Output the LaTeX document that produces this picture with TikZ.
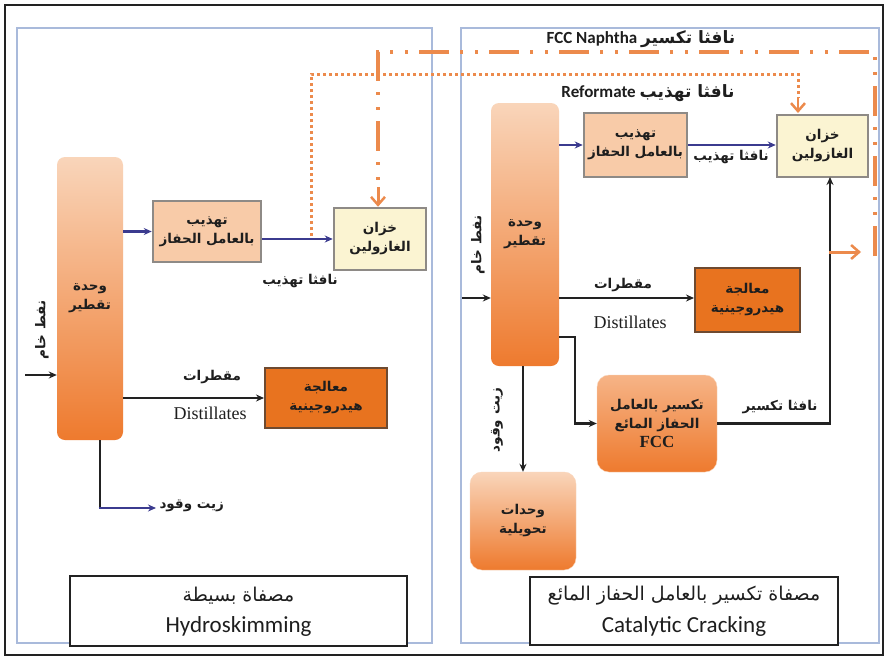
\documentclass[tikz,border=0pt]{standalone}
\usepackage{fontspec}
\setmainfont{Liberation Serif}
\newfontfamily\arabicfont[Script=Arabic]{DejaVu Sans}
\newfontfamily\calib{Carlito}
\TeXXeTstate=1
\usetikzlibrary{arrows.meta}
\newcommand{\artxt}[1]{\beginR #1\endR}
\definecolor{panelc}{HTML}{A9BADB}
\definecolor{flowblue}{HTML}{3B3B8F}
\definecolor{orgline}{HTML}{EC8A4C}
\definecolor{hydro}{HTML}{E8731F}
\definecolor{hydroedge}{HTML}{6E4A30}
\definecolor{refill}{HTML}{F8CBA8}
\definecolor{tankfill}{HTML}{FBF4D2}
\definecolor{boxgray}{HTML}{8E8A86}
\definecolor{coltop}{HTML}{F9D5BA}
\definecolor{colbot}{HTML}{EE7A2E}
\definecolor{fcctop}{HTML}{F6B487}
\definecolor{linek}{HTML}{222222}
\definecolor{txtk}{HTML}{1E1E1E}
\tikzset{
  arfont/.style={font=\arabicfont\bfseries\fontsize{13.5}{19}\selectfont, text=txtk},
  arbig/.style={font=\arabicfont\fontsize{19}{22}\selectfont, text=txtk},
  column/.style={rounded corners=8pt, top color=coltop, bottom color=colbot, draw=none, inner sep=0pt, arfont, align=center},
  rounit/.style={rounded corners=12pt, top color=fcctop, bottom color=colbot, draw=coltop, inner sep=0pt, arfont, align=center},
  conv/.style={rounded corners=12pt, top color=coltop, bottom color=colbot, draw=coltop, inner sep=0pt, arfont, align=center},
  refbox/.style={fill=refill, draw=boxgray, line width=2.5pt, inner sep=0pt, arfont, align=center},
  tankbox/.style={fill=tankfill, draw=boxgray, line width=2.5pt, inner sep=0pt, arfont, align=center},
  hydbox/.style={fill=hydro, draw=hydroedge, line width=2pt, inner sep=0pt, arfont, align=center},
  capbox/.style={fill=white, draw=linek, line width=2pt, inner sep=0pt, align=center},
  panel/.style={draw=panelc, line width=2pt},
  bluearrow/.style={draw=flowblue, line width=2.8pt, -{Stealth[length=8pt,width=7pt]}},
  blackarrow/.style={draw=linek, line width=2.8pt, -{Stealth[length=8pt,width=7pt]}},
  blackline/.style={draw=linek, line width=2.8pt},
  dotline/.style={draw=orgline, line width=3pt, dash pattern=on 3pt off 3pt},
  dashdotline/.style={draw=orgline, line width=3.2pt, dash pattern=on 30pt off 11pt on 3pt off 12pt on 3pt off 11pt},
  orgtip/.style={-{Straight Barb[length=8pt,width=14pt,line width=2.5pt]}},
  latinlbl/.style={font=\calib\bfseries\fontsize{17}{20}\selectfont, text=txtk},
  distfont/.style={font=\fontsize{18}{20}\selectfont, text=txtk},
  capfont/.style={font=\calib\fontsize{23}{26}\selectfont, text=txtk}
}
\begin{document}
\begin{tikzpicture}[x=1pt,y=-1pt]
\useasboundingbox (0,0) rectangle (885,656);
\fill[white] (0,0) rectangle (885,656);
\draw[linek, line width=2pt] (5,5) rectangle (883,655);
\draw[panel] (17,28) rectangle (432,643);
\draw[panel] (461,28) rectangle (879,643);

% ---------- left panel ----------
\node[column, minimum width=66pt, minimum height=283pt] (colL) at (90,298.5) {\artxt{وحدة}\\\artxt{تقطير}};
\node[refbox, minimum width=108pt, minimum height=61pt] (refL) at (207,231.5) {\artxt{تهذيب}\\\artxt{بالعامل الحفاز}};
\node[tankbox, minimum width=92pt, minimum height=62pt] (tankL) at (380,239) {\artxt{خزان}\\\artxt{الغازولين}};
\node[hydbox, minimum width=122pt, minimum height=60pt] (hydL) at (326,398) {\artxt{معالجة}\\\artxt{هيدروجينية}};
\node[capbox, minimum width=337pt, minimum height=70pt] (capL) at (238.5,611) {};
\node[arbig] (capLa) at (238.5,596) {\artxt{مصفاة بسيطة}};
\node[capfont] (capLb) at (238.5,626) {Hydroskimming};

\node[arfont, rotate=90] (crudeLt) at (42,330) {\artxt{نفط خام}};
\coordinate (crudeL) at (25,375);
\draw[blackarrow] (crudeL) -- (crudeL -| colL.west);

\draw[bluearrow] (colL.east |- refL.west) -- (refL.west);
\draw[bluearrow] (refL.east |- tankL.west) -- (tankL.west);
\node[arfont] (refLlbl) at (300,281) {\artxt{نافثا تهذيب}};

\draw[blackarrow] (colL.east |- hydL.west) -- (hydL.west);
\node[arfont] (distLa) at (212,377) {\artxt{مقطرات}};
\node[distfont] (distLb) at (210,413) {Distillates};

\node[arfont, anchor=west] (fuelL) at (156,506) {\artxt{زيت وقود}};
\draw[blackline] (colL.south -| 100,0) -- (100,508);
\draw[bluearrow] (98.6,508) -- (fuelL.west |- 0,508);

% ---------- right panel ----------
\node[column, minimum width=68pt, minimum height=263pt] (colR) at (525,234.5) {\artxt{وحدة}\\\artxt{تقطير}};
\node[refbox, minimum width=103pt, minimum height=64pt] (refR) at (635.5,145) {\artxt{تهذيب}\\\artxt{بالعامل الحفاز}};
\node[tankbox, minimum width=91pt, minimum height=62pt] (tankR) at (822.5,146) {\artxt{خزان}\\\artxt{الغازولين}};
\node[hydbox, minimum width=105pt, minimum height=64pt] (hydR) at (747.5,300) {\artxt{معالجة}\\\artxt{هيدروجينية}};
\node[rounit, minimum width=120pt, minimum height=97pt] (fcc) at (657,423.5) {\artxt{تكسير بالعامل}\\\artxt{الحفاز المائع}\\{\rmfamily\bfseries\fontsize{17}{19}\selectfont FCC}};
\node[conv, minimum width=106pt, minimum height=98pt] (convR) at (523,521) {\artxt{وحدات}\\\artxt{تحويلية}};
\node[capbox, minimum width=308pt, minimum height=68pt] (capR) at (684,611) {};
\node[arbig] (capRa) at (684,596) {\artxt{مصفاة تكسير بالعامل الحفاز المائع}};
\node[capfont] (capRb) at (684,626) {Catalytic Cracking};

\node[arfont, rotate=90] (crudeRt) at (478,245) {\artxt{نفط خام}};
\coordinate (crudeR) at (462,298);
\draw[blackarrow] (crudeR) -- (crudeR -| colR.west);

\draw[bluearrow] (colR.east |- refR.west) -- (refR.west);
\draw[bluearrow] (refR.east) -- (refR.east -| tankR.west);
\node[arfont] (refRlbl) at (731,157) {\artxt{نافثا تهذيب}};
\node[latinlbl] (reflbl) at (648,93) {Reformate \arabicfont\artxt{نافثا تهذيب}};
\node[latinlbl] (fccnlbl) at (641,39) {FCC Naphtha \arabicfont\artxt{نافثا تكسير}};

\draw[blackarrow] (colR.east |- 0,298) -- (hydR.west |- 0,298);
\node[arfont] (distRa) at (623,285) {\artxt{مقطرات}};
\node[distfont] (distRb) at (630,322) {Distillates};

\draw[blackarrow] (colR.east |- 0,337) -- (575,337) |- (fcc.west);
\coordinate (fccup) at (830,177);
\draw[blackarrow] (fcc.east) -| (fccup);
\node[arfont] (fccnl) at (780,407) {\artxt{نافثا تكسير}};

\draw[blackarrow] (convR.north |- colR.south) -- (convR.north);
\node[arfont, rotate=90] (fuelR) at (497,420) {\artxt{زيت وقود}};

% ---------- orange streams ----------
\coordinate (dotS) at (311,236);
\coordinate (dotE) at (798,113);
\draw[dotline] (dotS) -- (311,74) -- (798,74) -- (798,98);
\draw[draw=orgline, line width=2.5pt, orgtip] (798,97) -- (dotE);

\coordinate (ddS) at (875,256);
\draw[dashdotline] (ddS) -- (875,52) -- (378,52) -- (378,188);
\draw[draw=orgline, line width=3pt, orgtip] (378,187) -- (tankL.north -| 378,0);
\coordinate (ddA) at (829,252);
\draw[draw=orgline, line width=3pt, orgtip] (ddA) -- (861,252);
\end{tikzpicture}
\end{document}
